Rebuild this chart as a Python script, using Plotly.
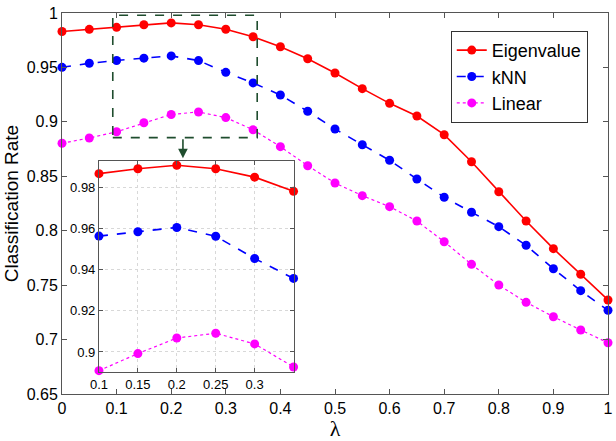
import plotly.graph_objects as go

lam = [0.0, 0.05, 0.1, 0.15, 0.2, 0.25, 0.3, 0.35, 0.4, 0.45, 0.5,
       0.55, 0.6, 0.65, 0.7, 0.75, 0.8, 0.85, 0.9, 0.95, 1.0]
eigen = [0.983, 0.985, 0.9868, 0.9892, 0.9909, 0.9892, 0.9851, 0.9782, 0.969, 0.958, 0.9449,
         0.9305, 0.917, 0.9054, 0.8882, 0.8634, 0.8358, 0.8089, 0.7835, 0.760, 0.7364]
knn = [0.9501, 0.9538, 0.9564, 0.9585, 0.9606, 0.9563, 0.9455, 0.9358, 0.9247, 0.9097, 0.8934,
       0.879, 0.8647, 0.8475, 0.8307, 0.8170, 0.8037, 0.7866, 0.7651, 0.7449, 0.7269]
linear = [0.8803, 0.8852, 0.8909, 0.8992, 0.9068, 0.9091, 0.9039, 0.8927, 0.8772, 0.8597, 0.8438,
          0.8322, 0.8221, 0.8089, 0.7899, 0.7691, 0.7501, 0.7342, 0.721, 0.7088, 0.6971]

inset_lo, inset_hi = 0.1, 0.35
main_xticks = [0, 0.1, 0.2, 0.3, 0.4, 0.5, 0.6, 0.7, 0.8, 0.9, 1]
main_xlabels = ["0", "0.1", "0.2", "0.3", "0.4", "0.5", "0.6", "0.7", "0.8", "0.9", "1"]
main_yticks = [0.65, 0.7, 0.75, 0.8, 0.85, 0.9, 0.95, 1]
main_ylabels = ["0.65", "0.7", "0.75", "0.8", "0.85", "0.9", "0.95", "1"]
inset_xticks = [0.1, 0.15, 0.2, 0.25, 0.3]
inset_xlabels = ["0.1", "0.15", "0.2", "0.25", "0.3"]
inset_yticks = [0.9, 0.92, 0.94, 0.96, 0.98]
inset_ylabels = ["0.9", "0.92", "0.94", "0.96", "0.98"]

series = [
    ("Eigenvalue", eigen, "#ff0000", "solid", 1.6),
    ("kNN", knn, "#0000ff", "dash", 1.6),
    ("Linear", linear, "#ff00ff", "dot", 1.2),
]

fig = go.Figure()
for name, vals, col, dash, w in series:
    fig.add_trace(go.Scatter(x=lam, y=vals, name=name, mode="lines+markers",
                             line=dict(color=col, dash=dash, width=w),
                             marker=dict(color=col, size=9),
                             cliponaxis=False,
                             xaxis="x", yaxis="y"))

ix = [v for v in lam if inset_lo - 1e-9 <= v <= inset_hi + 1e-9]
for name, vals, col, dash, w in series:
    iv = [vals[i] for i, v in enumerate(lam) if inset_lo - 1e-9 <= v <= inset_hi + 1e-9]
    fig.add_trace(go.Scatter(x=ix, y=iv, name=name, mode="lines+markers", showlegend=False,
                             line=dict(color=col, dash=dash, width=w),
                             marker=dict(color=col, size=9, line=dict(width=0)),
                             cliponaxis=False,
                             xaxis="x2", yaxis="y2"))

axcol = "#555555"
fig.update_layout(
    width=616, height=441,
    margin=dict(l=62, r=3, t=13, b=47),
    paper_bgcolor="white", plot_bgcolor="white",
    font=dict(family="Liberation Sans, Arial, sans-serif", size=16, color="black"),
    showlegend=True,
    legend=dict(x=0.712, y=0.953, xanchor="left", yanchor="top",
                bordercolor="#333333", borderwidth=1, bgcolor="white",
                font=dict(size=18), tracegroupgap=0, itemwidth=30),
    xaxis=dict(range=[0, 1], tickvals=main_xticks, ticktext=main_xlabels,
               showgrid=False, zeroline=False, showline=True, linecolor=axcol,
               mirror="ticks", ticks="inside", ticklen=5, tickcolor=axcol,
               ticklabeloverflow="allow",
               title=dict(text="λ", font=dict(family="Liberation Serif, serif", size=22), standoff=0),
               domain=[0, 1]),
    yaxis=dict(range=[0.65, 1], tickvals=main_yticks, ticktext=main_ylabels,
               showgrid=False, zeroline=False, showline=True, linecolor=axcol,
               mirror="ticks", ticks="inside", ticklen=5, tickcolor=axcol,
               ticklabeloverflow="allow",
               title=dict(text="Classification Rate", font=dict(size=19), standoff=3),
               domain=[0, 1]),
    xaxis2=dict(range=[inset_lo, inset_hi], tickvals=inset_xticks, ticktext=inset_xlabels,
                domain=[0.0677, 0.4241], anchor="y2",
                showgrid=True, gridcolor="#d8d8d8", griddash="dot", gridwidth=1,
                zeroline=False, showline=True, linecolor=axcol, mirror="ticks",
                ticks="inside", ticklen=4, tickcolor=axcol, tickfont=dict(size=13)),
    yaxis2=dict(range=[0.8901, 0.9931], tickvals=inset_yticks, ticktext=inset_ylabels,
                domain=[0.057, 0.6123], anchor="x2",
                showgrid=True, gridcolor="#d8d8d8", griddash="dot", gridwidth=1,
                zeroline=False, showline=True, linecolor=axcol, mirror="ticks",
                ticks="inside", ticklen=4, tickcolor=axcol, tickfont=dict(size=13)),
)

# white background of inset, drawn in the inset subplot layer
fig.add_shape(type="rect", xref="x2", yref="y2", x0=inset_lo, x1=inset_hi,
              y0=0.8901, y1=0.9931, fillcolor="white", line=dict(width=0), layer="below")

# dashed zoom rectangle on main axes
green = "#1f4d2e"
fig.add_shape(type="rect", xref="x", yref="y", x0=0.093, x1=0.3575, y0=0.8855, y1=0.998,
              line=dict(color=green, dash="dash", width=1.6), layer="above")
fig.add_annotation(xref="x", yref="y", axref="x", ayref="y",
                   x=0.2215, y=0.8665, ax=0.2215, ay=0.8855,
                   showarrow=True, arrowhead=2, arrowsize=1.2, arrowwidth=1.6,
                   arrowcolor=green, text="")

fig.write_html("out.html", config={"displayModeBar": False},
               post_script="document.body.style.margin='0';document.body.style.padding='0';")
